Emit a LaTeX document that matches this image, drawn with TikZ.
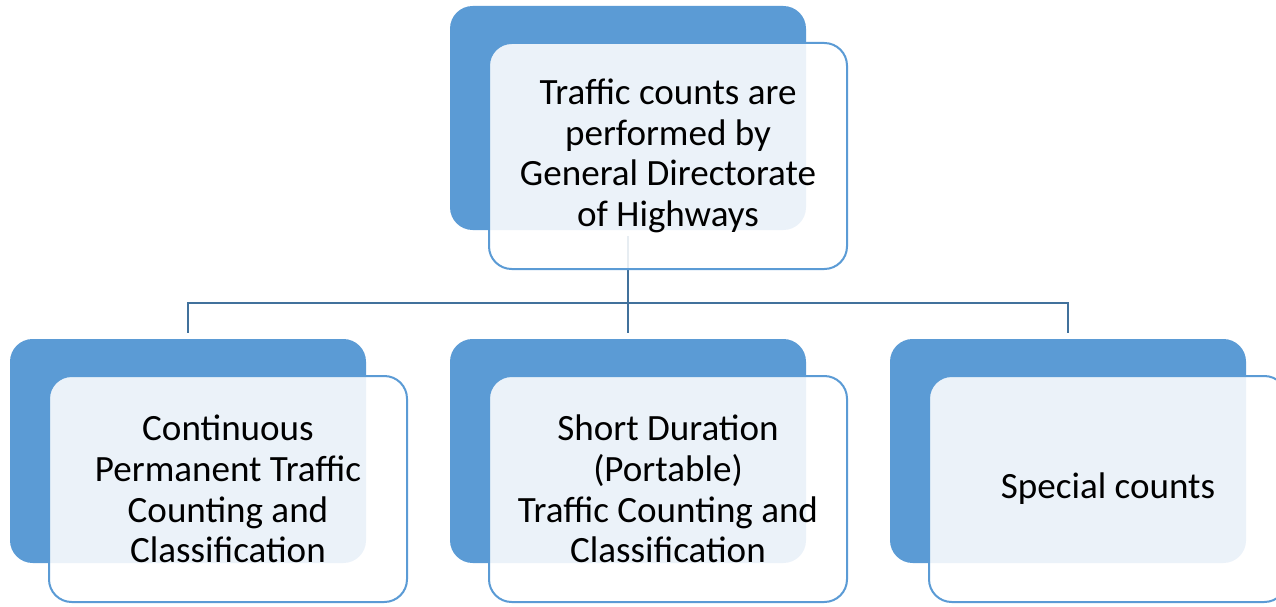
\documentclass[tikz,border=0pt]{standalone}
\usepackage{fontspec}
\setmainfont{Carlito}
\usepackage{tikz}
\definecolor{boxblue}{HTML}{5B9BD5}
\definecolor{lineblue}{HTML}{41719C}
\tikzset{
backbox/.style={rectangle, rounded corners=17pt, fill=boxblue, minimum width=267pt, minimum height=168pt},
frontbox/.style={rectangle, rounded corners=17pt, draw=boxblue, line width=1.5pt, fill=white, fill opacity=0.88, text opacity=1, minimum width=268.5pt, minimum height=169.5pt, align=center, font=\fontsize{27.8}{30.5}\selectfont},
conn/.style={draw=lineblue, line width=1.8pt, shorten <=4.5pt, shorten >=4.5pt}
}

\begin{document}
\begin{tikzpicture}[x=0.75pt,y=-0.75pt]
\useasboundingbox (0,0) rectangle (1276,606);

\node[backbox] (topb) at (628,118) {};
\node[backbox] (lb) at (188,451) {};
\node[backbox] (mb) at (628,451) {};
\node[backbox] (rb) at (1068,451) {};

\coordinate (bus) at (628,303);
\draw[conn] (topb.south) -- (mb.north);
\draw[conn] (lb.north) |- (bus) -| (rb.north);

\node[frontbox] (topf) at (668,156) {Traffic counts are\\performed by\\General Directorate\\of Highways};
\node[frontbox] (lf) at (228,489) {Continuous\\Permanent Traffic\\Counting and\\Classification};
\node[frontbox] (mf) at (668,489) {Short Duration\\(Portable)\\Traffic Counting and\\Classification};
\node[frontbox] (rf) at (1108,489) {Special counts};
\end{tikzpicture}
\end{document}
